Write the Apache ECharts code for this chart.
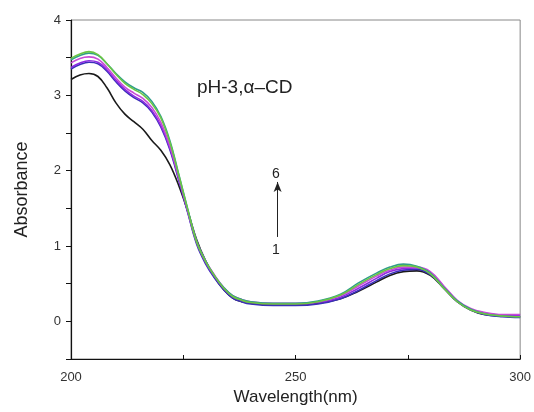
<!DOCTYPE html>
<html><head><meta charset="utf-8">
<script src="https://cdn.jsdelivr.net/npm/echarts@6/dist/echarts.min.js"></script>
<style>html,body{margin:0;padding:0;background:#fff}#c{width:534px;height:412px}</style>
</head><body><div id="c"></div>
<script>
const wavelengths = [200,202,204,206,208,210,212,214,216,218,220,222,224,226,228,230,232,234,236,238,240,245,250,255,260,264,268,271,274,277,280,283,286,289,292,296,300];
const s1 = [3.21,3.27,3.29,3.25,3.10,2.90,2.75,2.65,2.55,2.40,2.27,2.08,1.80,1.46,1.08,0.80,0.58,0.42,0.31,0.26,0.24,0.22,0.22,0.24,0.30,0.40,0.52,0.61,0.66,0.67,0.61,0.44,0.26,0.15,0.09,0.07,0.06];
const s2 = [3.35,3.41,3.44,3.42,3.32,3.18,3.06,2.97,2.90,2.78,2.58,2.28,1.87,1.44,1.02,0.76,0.57,0.42,0.31,0.26,0.23,0.21,0.21,0.23,0.30,0.41,0.54,0.63,0.68,0.69,0.62,0.44,0.26,0.15,0.09,0.06,0.05];
const s3 = [3.37,3.43,3.46,3.44,3.34,3.20,3.08,2.99,2.92,2.80,2.60,2.30,1.89,1.45,1.04,0.78,0.59,0.44,0.33,0.28,0.25,0.23,0.23,0.25,0.32,0.44,0.57,0.66,0.70,0.71,0.65,0.46,0.27,0.16,0.11,0.08,0.08];
const s4 = [3.43,3.49,3.51,3.48,3.37,3.23,3.11,3.03,2.96,2.84,2.64,2.33,1.91,1.47,1.06,0.80,0.61,0.45,0.34,0.29,0.26,0.24,0.24,0.26,0.34,0.47,0.60,0.68,0.72,0.72,0.66,0.47,0.28,0.17,0.12,0.09,0.09];
const s5 = [3.47,3.53,3.56,3.53,3.42,3.29,3.18,3.10,3.04,2.92,2.72,2.40,1.95,1.49,1.06,0.80,0.60,0.45,0.34,0.29,0.26,0.24,0.24,0.27,0.36,0.51,0.64,0.72,0.76,0.73,0.64,0.45,0.27,0.16,0.10,0.07,0.06];
const s6 = [3.49,3.55,3.58,3.54,3.42,3.28,3.16,3.08,3.01,2.89,2.70,2.38,1.94,1.48,1.05,0.79,0.60,0.44,0.33,0.28,0.25,0.23,0.23,0.26,0.35,0.49,0.62,0.70,0.74,0.72,0.63,0.44,0.26,0.15,0.10,0.07,0.06];
const seriesNames = ['1','2','3','4','5','6'];
const seriesData = [s1,s2,s3,s4,s5,s6];
const colors = ['#1a1a1a','#3a2fb8','#8b2be2','#c84ad6','#2f9e8a','#6cc644'];
const xTicks = [200,250,300];
const yTicks = [0,1,2,3,4];

const chart = echarts.init(document.getElementById('c'));
const series = seriesData.map((d,i)=>({
  name: seriesNames[i], type:'line', smooth:0.4, showSymbol:false,
  data: wavelengths.map((w,j)=>[w,d[j]]),
  lineStyle:{width:1.6,color:colors[i]}, itemStyle:{color:colors[i]}, z: 2+i
}));
series.push({
  type:'line', data:[], silent:true,
  markLine:{silent:true, symbol:['none','arrow'], symbolSize:[6,10], label:{show:false},
    lineStyle:{color:'#222',width:1,type:'solid'},
    data:[[{coord:[246,1.12]},{coord:[246,1.85]}]]}
});
chart.setOption({
  animation:false,
  grid:{left:71,right:13,top:20,bottom:53,show:true,borderColor:'#888',borderWidth:1},
  xAxis:{type:'value',min:200,max:300,interval:25,
    name:'Wavelength(nm)',nameLocation:'middle',nameGap:30,
    nameTextStyle:{fontFamily:'Liberation Sans',fontSize:17,color:'#222'},
    axisLine:{show:true,onZero:false,lineStyle:{color:'#111',width:1.2}},
    axisTick:{show:true,inside:true,length:4,lineStyle:{color:'#111'}},
    axisLabel:{fontFamily:'Liberation Sans',fontSize:13,color:'#333',margin:12,
      formatter:v=>xTicks.includes(v)?String(v):''},
    splitLine:{show:false}},
  yAxis:{type:'value',min:-0.5,max:4,interval:0.5,
    name:'Absorbance',nameLocation:'middle',nameGap:40,
    nameTextStyle:{fontFamily:'Liberation Sans',fontSize:18,color:'#222'},
    axisLine:{show:true,onZero:false,lineStyle:{color:'#111',width:1.2}},
    axisTick:{show:true,inside:false,length:5,lineStyle:{color:'#111'}},
    axisLabel:{fontFamily:'Liberation Sans',fontSize:13,color:'#333',margin:10,
      formatter:v=>yTicks.includes(v)?String(v):''},
    splitLine:{show:false}},
  graphic:[
    {type:'text',left:197,top:78,style:{text:'pH-3,α–CD',fontFamily:'Liberation Sans',fontSize:19,fill:'#222'}},
    {type:'text',left:272,top:167,style:{text:'6',fontFamily:'Liberation Sans',fontSize:14,fill:'#222'}},
    {type:'text',left:272,top:243,style:{text:'1',fontFamily:'Liberation Sans',fontSize:14,fill:'#222'}}
  ],
  series
});
</script></body></html>
